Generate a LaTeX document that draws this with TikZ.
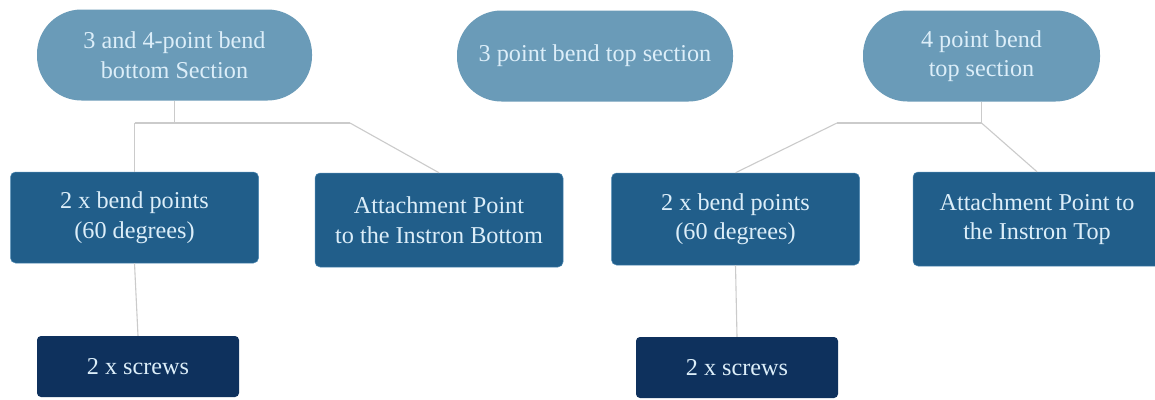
\documentclass[tikz,border=0pt]{standalone}
\usepackage{fontspec}
\setmainfont{Liberation Serif}
\definecolor{pillfill}{HTML}{6A9BB8}
\definecolor{boxfill}{HTML}{215E8A}
\definecolor{darkfill}{HTML}{0E315D}
\definecolor{boxedge}{HTML}{4C88B2}
\definecolor{labeltext}{HTML}{DCEEF9}
\definecolor{linkgrey}{HTML}{CBCBCB}
\begin{document}
\begin{tikzpicture}[x=1pt,y=-1pt,
  every node/.style={inner sep=0pt, align=center, text=labeltext,
    font=\fontsize{24.2}{29.5}\selectfont},
  pill/.style={fill=pillfill, rounded corners=44.5pt, minimum height=91pt},
  partbox/.style={fill=boxfill, draw=boxedge, line width=0.5pt,
    rounded corners=5pt, minimum width=248pt},
  screwbox/.style={fill=darkfill, rounded corners=4pt,
    minimum width=202pt, minimum height=61pt},
  link/.style={draw=linkgrey, line width=1.1pt}]
\useasboundingbox (0,0) rectangle (1155,399);
\fill[white] (0,0) rectangle (1155,399);

% section headers
\node[pill, minimum width=275pt] (p1) at (174.5,55) {3 and 4-point bend\\bottom Section};
\node[pill, minimum width=276pt] (p2) at (595,56) {3 point bend top section};
\node[pill, minimum width=237pt] (p3) at (981.5,56) {4 point bend\\top section};

% parts
\node[partbox, minimum height=91pt] (a) at (134.5,217.5) {2 x bend points\\(60 degrees)};
\node[partbox, minimum height=94pt] (b) at (439,220) {Attachment Point\\to the Instron Bottom};
\node[partbox, minimum height=92pt] (c) at (735.5,219) {2 x bend points\\(60 degrees)};
\node[partbox, minimum height=94pt] (d) at (1037,219) {Attachment Point to\\the Instron Top};

% fasteners
\node[screwbox] (e) at (138,366.5) {2 x screws};
\node[screwbox] (f) at (737,367.5) {2 x screws};

% junctions of the tree links
\coordinate (jl) at (134.5,123);
\coordinate (jr) at (350,123);
\coordinate (kl) at (837,123);
\coordinate (kr) at (981.5,123);

% left tree
\draw[link] (p1.south) -- (p1.south |- jl);
\draw[link] (jl) -- (jr);
\draw[link] (jl) -- (a.north);
\draw[link] (jr) -- (b.north);
\draw[link] (a.south) -- (e.north);

% right tree
\draw[link] (p3.south) -- (kr);
\draw[link] (kl) -- (kr);
\draw[link] (kl) -- (c.north);
\draw[link] (kr) -- (d.north);
\draw[link] (c.south) -- (f.north);
\end{tikzpicture}
\end{document}
